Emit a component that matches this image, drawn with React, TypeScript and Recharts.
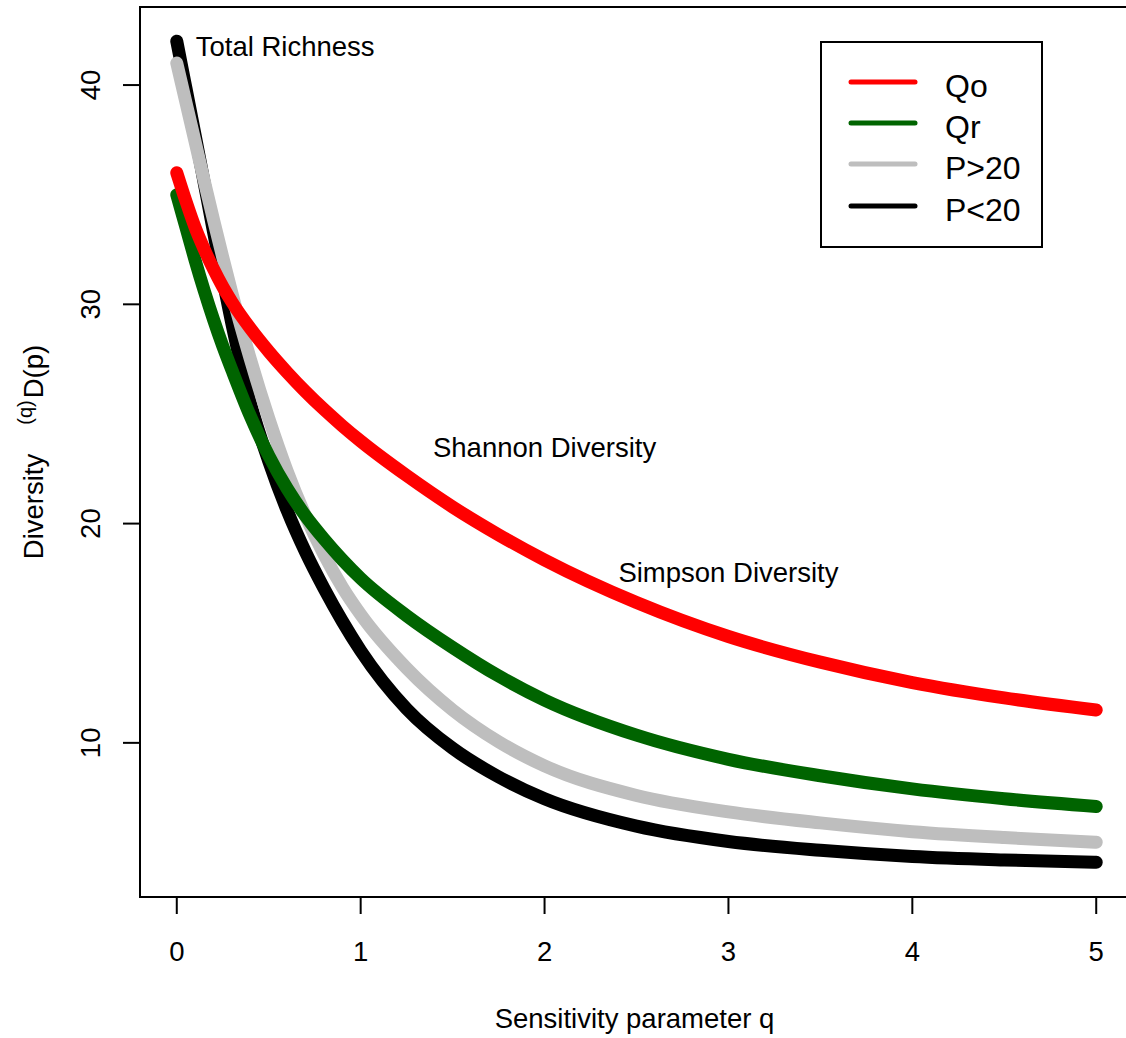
import React from "react";
import {
  LineChart,
  Line,
  XAxis,
  YAxis,
  Legend,
  ReferenceArea,
  ReferenceDot,
} from "recharts";

// ---- data ----
const qValues = [0, 0.05, 0.1, 0.15, 0.2, 0.25, 0.3, 0.4, 0.5, 0.6, 0.7, 0.8, 0.9, 1, 1.25, 1.5, 1.75, 2, 2.5, 3, 3.5, 4, 4.5, 5];
const qo = [36.0, 34.7, 33.5, 32.5, 31.6, 30.8, 30.1, 28.9, 27.85, 26.9, 26.02, 25.21, 24.46, 23.76, 22.19, 20.76, 19.49, 18.34, 16.4, 14.85, 13.68, 12.75, 12.05, 11.5];
const qr = [35.0, 33.5, 32.0, 30.6, 29.3, 28.1, 27.0, 24.9, 23.1, 21.6, 20.35, 19.3, 18.35, 17.5, 15.8, 14.35, 13.05, 11.95, 10.35, 9.25, 8.5, 7.9, 7.45, 7.1];
const pGt20 = [41.0, 39.2, 37.4, 35.6, 33.85, 32.15, 30.5, 27.5, 24.8, 22.4, 20.35, 18.6, 17.1, 15.85, 13.4, 11.5, 10.05, 8.95, 7.6, 6.85, 6.35, 5.95, 5.68, 5.47];
const pLt20 = [42.0, 39.85, 37.7, 35.5, 33.3, 31.15, 29.1, 25.5, 22.85, 20.6, 18.7, 17.05, 15.55, 14.2, 11.55, 9.75, 8.45, 7.45, 6.2, 5.5, 5.1, 4.82, 4.66, 4.55];

const xTicks = [0, 1, 2, 3, 4, 5];
const yTicks = [10, 20, 30, 40];
const xDomain: [number, number] = [-0.2, 5.2];
const yDomain: [number, number] = [2.97, 43.56];

const seriesKeys = ["Plt", "Pgt", "Qr", "Qo"];
const seriesNames: Record<string, string> = { Qo: "Qo", Qr: "Qr", Pgt: "P>20", Plt: "P<20" };
const seriesColors: Record<string, string> = { Qo: "#FF0000", Qr: "#006400", Pgt: "#BEBEBE", Plt: "#000000" };
const legendOrder = ["Qo", "Qr", "Pgt", "Plt"];

const annotations = [
  { q: 0, v: 41.8, text: "Total Richness", anchor: "start", dx: 19 },
  { q: 2, v: 23.5, text: "Shannon Diversity", anchor: "middle", dx: 0 },
  { q: 3, v: 17.8, text: "Simpson Diversity", anchor: "middle", dx: 0 },
];

const data = qValues.map((q, i) => ({
  q,
  Qo: qo[i],
  Qr: qr[i],
  Pgt: pGt20[i],
  Plt: pLt20[i],
}));

const FONT = "'Liberation Sans', Arial, Helvetica, sans-serif";
const FS = 27.5;

const XTick = (props: any) => {
  const { x, y, payload } = props;
  return (
    <text x={x} y={y + 47} textAnchor="middle" fontFamily={FONT} fontSize={FS} fill="#000">
      {payload.value}
    </text>
  );
};

const YTick = (props: any) => {
  const { x, y, payload } = props;
  const bx = x - 23;
  return (
    <text
      x={bx}
      y={y}
      transform={`rotate(-90, ${bx}, ${y})`}
      textAnchor="middle"
      fontFamily={FONT}
      fontSize={FS}
      fill="#000"
    >
      {payload.value}
    </text>
  );
};

const YTitle = (props: any) => {
  const vb = props.viewBox || { x: 0, y: 7, width: 140, height: 890 };
  const cy = vb.y + vb.height / 2;
  const bx = 43;
  return (
    <text
      transform={`translate(${bx}, ${cy}) rotate(-90)`}
      x={0}
      y={0}
      textAnchor="middle"
      fontFamily={FONT}
      fontSize={FS}
      fill="#000"
    >
      <tspan>Diversity</tspan>
      <tspan dx={29} dy={-11} fontSize={20}>(q)</tspan>
      <tspan dx={2} dy={11}>D(p)</tspan>
    </text>
  );
};

const XTitle = (props: any) => {
  const vb = props.viewBox || { x: 140, y: 897, width: 993, height: 141 };
  const cx = vb.x + vb.width / 2;
  return (
    <text x={cx - 2} y={1028} textAnchor="middle" fontFamily={FONT} fontSize={FS} fill="#000">
      Sensitivity parameter q
    </text>
  );
};

const makeAnnot = (text: string, anchor: string, dx: number) => (props: any) => {
  const vb = props.viewBox || { x: 0, y: 0 };
  return (
    <text
      x={vb.x + dx}
      y={vb.y + 10}
      textAnchor={anchor as any}
      fontFamily={FONT}
      fontSize={FS}
      fill="#000"
    >
      {text}
    </text>
  );
};

const LegendBox = () => {
  const rowY = [41, 82, 123, 165];
  return (
    <div
      style={{
        position: "relative",
        width: 223,
        height: 207,
        border: "2px solid #000",
        boxSizing: "border-box",
        background: "#fff",
      }}
    >
      <svg width={223} height={207} style={{ position: "absolute", left: -2, top: -2 }}>
        {legendOrder.map((k, i) => (
          <g key={k}>
            <line
              x1={31}
              x2={95}
              y1={rowY[i]}
              y2={rowY[i]}
              stroke={seriesColors[k]}
              strokeWidth={5}
              strokeLinecap="round"
            />
            <text x={125} y={rowY[i] + 15} fontFamily={FONT} fontSize={32} fill="#000">
              {seriesNames[k]}
            </text>
          </g>
        ))}
      </svg>
    </div>
  );
};

export default function App() {
  return (
    <div
      style={{
        position: "absolute",
        left: 0,
        top: 0,
        width: 1126,
        height: 1038,
        overflow: "hidden",
        background: "#fff",
      }}
    >
      <LineChart
        width={1140}
        height={1038}
        data={data}
        margin={{ top: 7, right: 7, bottom: 0, left: 0 }}
      >
        <XAxis
          dataKey="q"
          type="number"
          domain={xDomain}
          ticks={xTicks}
          allowDataOverflow
          axisLine={false}
          tickLine={{ stroke: "#000", strokeWidth: 2 }}
          tickSize={17}
          tickMargin={0}
          height={141}
          tick={<XTick />}
          label={<XTitle />}
        />
        <YAxis
          type="number"
          domain={yDomain}
          ticks={yTicks}
          allowDataOverflow
          axisLine={false}
          tickLine={{ stroke: "#000", strokeWidth: 2 }}
          tickSize={17}
          tickMargin={0}
          width={140}
          tick={<YTick />}
          label={<YTitle />}
        />
        {seriesKeys.map((k) => (
          <Line
            key={k}
            dataKey={k}
            name={seriesNames[k]}
            type="monotone"
            stroke={seriesColors[k]}
            strokeWidth={13}
            strokeLinecap="round"
            strokeLinejoin="round"
            dot={false}
            activeDot={false}
            isAnimationActive={false}
          />
        ))}
        <ReferenceArea
          x1={xDomain[0]}
          x2={xDomain[1]}
          y1={yDomain[0]}
          y2={yDomain[1]}
          fill="none"
          fillOpacity={0}
          stroke="#000"
          strokeWidth={2}
          ifOverflow="visible"
        />
        {annotations.map((a) => (
          <ReferenceDot
            key={a.text}
            x={a.q}
            y={a.v}
            r={0}
            fill="none"
            stroke="none"
            ifOverflow="visible"
            label={{ content: makeAnnot(a.text, a.anchor, a.dx) } as any}
          />
        ))}
        <Legend
          layout="vertical"
          align="center"
          verticalAlign="middle"
          wrapperStyle={{ position: "absolute", left: 820, top: 41, width: 223, height: 207 }}
          content={<LegendBox />}
        />
      </LineChart>
    </div>
  );
}
